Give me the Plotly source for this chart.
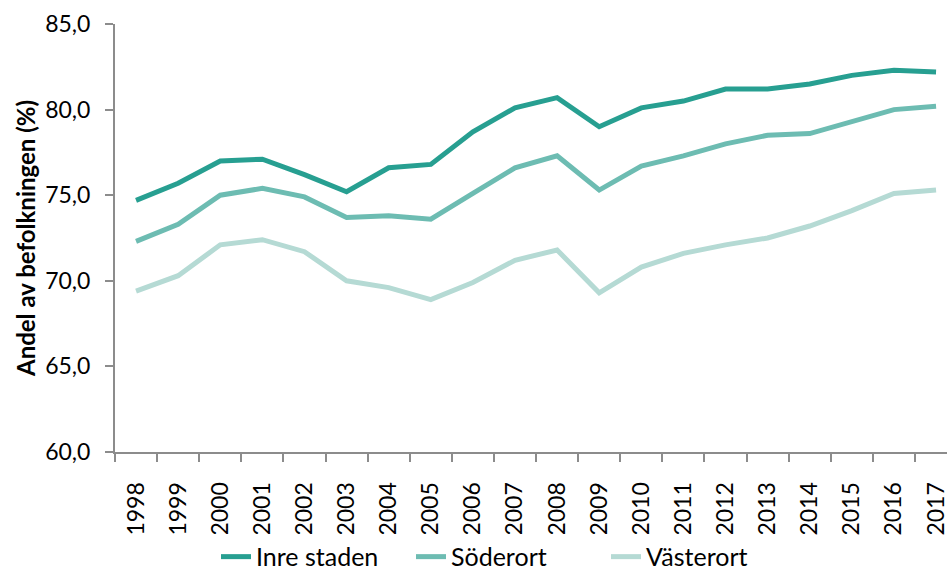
import plotly.graph_objects as go

years = [str(y) for y in range(1998, 2018)]

inre_staden = [74.7, 75.7, 77.0, 77.1, 76.2, 75.2, 76.6, 76.8, 78.7, 80.1,
               80.7, 79.0, 80.1, 80.5, 81.2, 81.2, 81.5, 82.0, 82.3, 82.2]
soderort = [72.3, 73.3, 75.0, 75.4, 74.9, 73.7, 73.8, 73.6, 75.1, 76.6,
            77.3, 75.3, 76.7, 77.3, 78.0, 78.5, 78.6, 79.3, 80.0, 80.2]
vasterort = [69.4, 70.3, 72.1, 72.4, 71.7, 70.0, 69.6, 68.9, 69.9, 71.2,
             71.8, 69.3, 70.8, 71.6, 72.1, 72.5, 73.2, 74.1, 75.1, 75.3]

series = [
    ("Inre staden", inre_staden, "#279f91"),
    ("Söderort", soderort, "#6dbcb2"),
    ("Västerort", vasterort, "#b5dad4"),
]

fig = go.Figure()
for name, vals, color in series:
    fig.add_trace(go.Scatter(
        x=years, y=vals, name=name, mode="lines",
        line=dict(color=color, width=5),
    ))

axis_color = "#8c8c8c"
fig.update_layout(
    width=947, height=570,
    margin=dict(l=115, r=0, t=24, b=118),
    paper_bgcolor="white", plot_bgcolor="white",
    separators=", ",
    font=dict(family="Lato, sans-serif", size=23, color="#000000"),
    showlegend=True,
    legend=dict(
        orientation="h",
        xref="container", yref="container",
        x=216 / 947, xanchor="left", y=0.023, yanchor="middle",
        font=dict(size=25),
        itemwidth=30,
        entrywidthmode="pixels",
        entrywidth=150,
    ),
    xaxis=dict(
        type="category",
        range=[-0.5, 19.26],
        tickson="boundaries",
        ticks="outside", ticklen=8, tickcolor=axis_color, tickwidth=1.5,
        showline=True, linecolor=axis_color, linewidth=2,
        showgrid=False, zeroline=False,
        tickangle=-90,
        ticklabelstandoff=19,
        tickfont=dict(size=23),
        automargin=False,
    ),
    yaxis=dict(
        range=[60, 85],
        tick0=60, dtick=5,
        tickformat=".1f",
        ticks="outside", ticklen=8, tickcolor=axis_color, tickwidth=1.5,
        showline=True, linecolor=axis_color, linewidth=2,
        showgrid=False, zeroline=False,
        ticklabelstandoff=10,
        tickfont=dict(size=23),
        automargin=False,
        title=dict(
            text="<b>Andel av befolkningen (%)</b>",
            font=dict(size=24),
            standoff=3,
        ),
    ),
)

fig.write_html("out.html")
